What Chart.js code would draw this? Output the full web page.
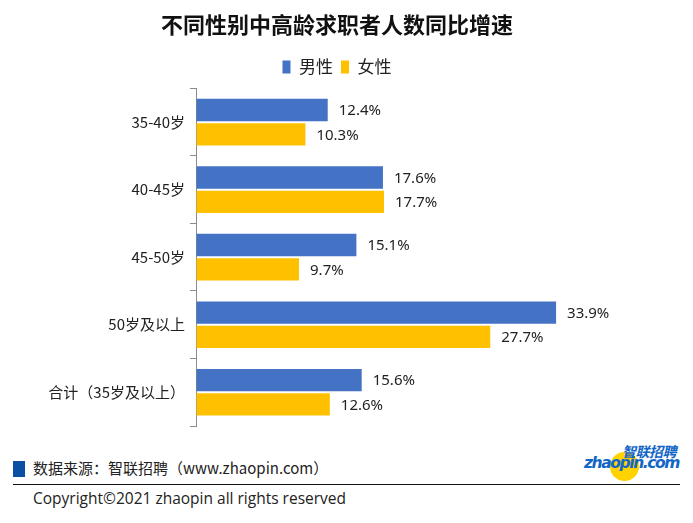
<!DOCTYPE html>
<html>
<head>
<meta charset="utf-8">
<script src="https://cdn.jsdelivr.net/npm/chart.js@4.4.0/dist/chart.umd.min.js"></script>
<style>
  body { margin: 0; background: #fff; font-family: "Noto Sans CJK SC", "Noto Sans", sans-serif; }
  #wrap { position: relative; width: 693px; height: 523px; overflow: hidden; }
  #chart-box { position: absolute; left: 0; top: 0; width: 693px; height: 440px; }
  .fuente { position: absolute; left: 33px; top: 457px; font-size: 15px; color: #222; }
  .cuadro { position: absolute; left: 13px; top: 461px; width: 12px; height: 16px; background: #0a4fa5; }
  .linea { position: absolute; left: 13px; top: 484px; width: 667px; height: 0; border-top: 1.5px solid #111; }
  .copy { position: absolute; left: 33px; top: 487px; font-size: 15.5px; color: #222; font-family: "Open Sans", "Noto Sans", sans-serif; }
  .logo1 { position: absolute; left: 622px; top: 441px; font-size: 14px; font-weight: bold; font-style: italic; color: #1166c8; letter-spacing: -0.5px; }
  .logo2 { position: absolute; left: 584px; top: 454px; font-size: 15.5px; font-weight: bold; font-style: italic; color: #1166c8; font-family: "DejaVu Sans", sans-serif; letter-spacing: -1.4px; }
  .bola { position: absolute; left: 610px; top: 452px; width: 29px; height: 29px; border-radius: 50%; background: #ffd200; }
</style>
</head>
<body>
<div id="wrap">
  <div id="chart-box"><canvas id="bar-chart" width="693" height="440"></canvas></div>
  <div class="cuadro"></div>
  <div class="fuente">数据来源：智联招聘（www.zhaopin.com）</div>
  <div class="bola"></div>
  <div class="logo1">智联招聘</div>
  <div class="logo2">zhaopin.com</div>
  <div class="linea"></div>
  <div class="copy">Copyright©2021 zhaopin all rights reserved</div>
</div>
<script>
const categorias = ["35-40岁", "40-45岁", "45-50岁", "50岁及以上", "合计（35岁及以上）"];
const hombres = [12.4, 17.6, 15.1, 33.9, 15.6];
const mujeres = [10.3, 17.7, 9.7, 27.7, 12.6];
const series = ["男性", "女性"];

const barChart = document.getElementById("bar-chart");

// etiquetas de valor al final de cada barra
const etiquetas = {
  id: "etiquetas",
  afterDatasetsDraw(chart) {
    const ctx = chart.ctx;
    ctx.save();
    ctx.font = '15px "Noto Sans", "DejaVu Sans", sans-serif';
    ctx.fillStyle = "#222";
    ctx.textBaseline = "middle";
    chart.data.datasets.forEach((ds, i) => {
      chart.getDatasetMeta(i).data.forEach((bar, j) => {
        ctx.fillText(ds.data[j].toFixed(1) + "%", bar.x + 11, bar.y + 1);
      });
    });
    ctx.restore();
  },
};

new Chart(barChart, {
  type: "bar",
  data: {
    labels: categorias,
    datasets: [
      {
        label: series[0],
        data: hombres,
        backgroundColor: "#4472C4",
        barPercentage: 0.92,
        categoryPercentage: 0.72,
      },
      {
        label: series[1],
        data: mujeres,
        backgroundColor: "#FFC000",
        barPercentage: 0.92,
        categoryPercentage: 0.72,
      },
    ],
  },
  options: {
    indexAxis: "y",
    responsive: false,
    animation: false,
    layout: { padding: { left: 0, right: 19, bottom: 14, top: 0 } },
    plugins: {
      title: {
        display: true,
        text: "不同性别中高龄求职者人数同比增速",
        color: "#111",
        font: { size: 22, weight: "bold", family: '"Noto Sans CJK SC", sans-serif' },
        padding: { top: 11, bottom: 13 },
      },
      legend: {
        position: "top",
        labels: {
          boxWidth: 8,
          boxHeight: 13,
          padding: 8,
          color: "#222",
          font: { size: 17, family: '"Noto Sans CJK SC", sans-serif' },
        },
      },
      tooltip: { enabled: false },
    },
    scales: {
      // eje x invisible arriba, solo deja un pequeño margen
      x: {
        position: "top",
        min: 0,
        max: 45,
        ticks: { display: false },
        border: { display: false },
        grid: { drawOnChartArea: false, color: "rgba(0,0,0,0)", tickLength: 3 },
      },
      y: {
        afterFit(scale) { scale.width = 196; },
        border: { color: "#8c8c8c", width: 1 },
        grid: { offset: true, drawOnChartArea: false, tickLength: 6, color: "#8c8c8c" },
        ticks: {
          padding: 5,
          color: "#222",
          font: { size: 15, family: '"Noto Sans CJK SC", sans-serif' },
        },
      },
    },
  },
  plugins: [etiquetas],
});
</script>
</body>
</html>
